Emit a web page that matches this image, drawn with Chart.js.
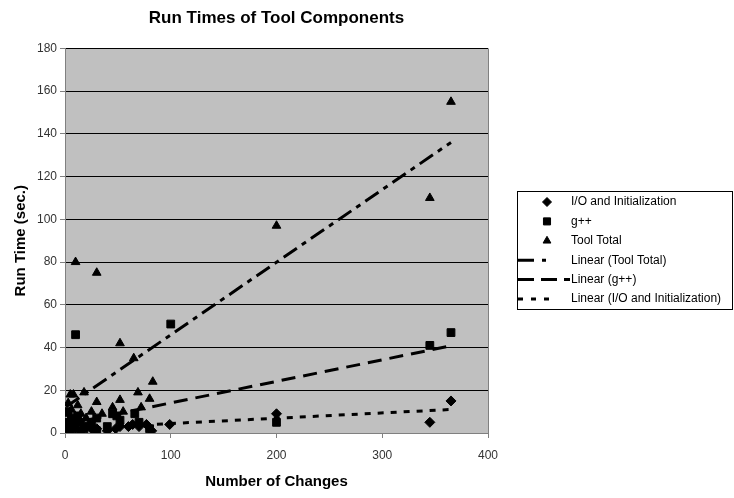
<!DOCTYPE html>
<html>
<head>
<meta charset="utf-8">
<script src="https://cdn.jsdelivr.net/npm/chart.js@4.4.1/dist/chart.umd.min.js"></script>
<style>
  html, body { margin: 0; padding: 0; background: #fff; }
  canvas { display: block; }
</style>
</head>
<body>
<canvas id="chart" width="734" height="498"></canvas>
<script>
// values
const xTickValues = [0, 100, 200, 300, 400];
const yTickValues = [0, 20, 40, 60, 80, 100, 120, 140, 160, 180];

const ioChanges = [1, 2, 3, 5, 7, 10, 12, 15, 20, 25, 30, 40, 48, 52, 60, 64, 70, 77, 82, 99, 200, 345, 365];
const ioTimes   = [1, 2, 3, 1, 4, 2, 5, 1, 3, 2, 2, 1, 2, 3, 3, 4, 3, 4, 1, 4, 9, 5, 15];

const gppChanges = [1, 2, 3, 4, 6, 8, 10, 12, 15, 18, 25, 30, 30, 40, 45, 49, 52, 66, 70, 80, 100, 200, 345, 365];
const gppTimes   = [2, 5, 10, 1, 7, 3, 46, 8, 5, 2, 4, 1, 7, 3, 9, 8, 6, 9, 5, 2, 51, 5, 41, 47];

const totalChanges = [1, 2, 3, 4, 5, 6, 8, 10, 12, 15, 18, 20, 25, 30, 30, 35, 45, 52, 52, 55, 65, 69, 72, 80, 83, 200, 345, 365];
const totalTimes   = [4, 9, 14, 6, 18, 11, 18, 80, 13, 9, 19, 7, 10, 75, 14.5, 9, 12, 42, 15.5, 10, 35, 19, 12, 16, 24, 97, 110, 155];

// trend line end points as drawn in the picture
const trendTotalX = [1, 365];
const trendTotalY = [12.3, 136];
const trendGppX = [1, 365];
const trendGppY = [4.1, 40.8];
const trendIoX = [1, 365];
const trendIoY = [2.0, 11.0];

const toPoints = (xs, ys) => xs.map((x, i) => ({ x: x, y: ys[i] }));

const FONT = "'Liberation Sans', Arial, sans-serif";

const plotBackground = {
  id: 'plotBackground',
  beforeDraw(chart) {
    const { ctx, chartArea: a } = chart;
    ctx.save();
    ctx.fillStyle = '#c0c0c0';
    ctx.fillRect(a.left, a.top, a.right - a.left, a.bottom - a.top);
    ctx.restore();
  },
  afterDatasetsDraw(chart) {
    const { ctx, chartArea: a } = chart;
    ctx.save();
    ctx.strokeStyle = '#808080';
    ctx.lineWidth = 1;
    ctx.beginPath();
    ctx.moveTo(Math.round(a.right) + 0.5, a.top);
    ctx.lineTo(Math.round(a.right) + 0.5, a.bottom);
    ctx.stroke();
    ctx.restore();
  }
};

// legend drawn in a bordered box to the right, like the original
const boxLegend = {
  id: 'boxLegend',
  afterDraw(chart) {
    const { ctx } = chart;
    ctx.save();
    ctx.strokeStyle = '#000';
    ctx.lineWidth = 1;
    ctx.strokeRect(517.5, 191.5, 215, 118);
    ctx.font = '12px ' + FONT;
    ctx.textBaseline = 'middle';
    ctx.textAlign = 'left';
    chart.data.datasets.forEach((ds, i) => {
      const y = 202 + i * 19.4;
      ctx.fillStyle = '#000';
      ctx.strokeStyle = '#000';
      if (ds.showLine) {
        ctx.save();
        ctx.lineWidth = 3;
        ctx.setLineDash(ds.legendDash);
        ctx.beginPath();
        ctx.moveTo(518, y);
        ctx.lineTo(ds.legendEnd, y);
        ctx.stroke();
        ctx.restore();
      } else {
        Chart.helpers.drawPoint(ctx, {
          pointStyle: ds.pointStyle, radius: ds.pointRadius - 0.5, rotation: 0, borderWidth: 1
        }, 547, y);
      }
      ctx.fillStyle = '#000';
      ctx.fillText(ds.label, 571, y);
    });
    ctx.restore();
  }
};

new Chart(document.getElementById('chart').getContext('2d'), {
  type: 'scatter',
  data: {
    datasets: [
      { label: 'I/O and Initialization', data: toPoints(ioChanges, ioTimes), pointStyle: 'rectRot', pointRadius: 5, backgroundColor: '#000', borderColor: '#000', borderWidth: 1 },
      { label: 'g++', data: toPoints(gppChanges, gppTimes), pointStyle: 'rect', pointRadius: 5.5, backgroundColor: '#000', borderColor: '#000', borderWidth: 1 },
      { label: 'Tool Total', data: toPoints(totalChanges, totalTimes), pointStyle: 'triangle', pointRadius: 5, backgroundColor: '#000', borderColor: '#000', borderWidth: 1 },
      { label: 'Linear (Tool Total)', data: toPoints(trendTotalX, trendTotalY), showLine: true, pointRadius: 0, borderColor: '#000', borderWidth: 3, borderDash: [16, 6, 5, 6], legendDash: [16, 8, 4, 100], legendEnd: 547 },
      { label: 'Linear (g++)', data: toPoints(trendGppX, trendGppY), showLine: true, pointRadius: 0, borderColor: '#000', borderWidth: 3, borderDash: [14, 8], legendDash: [16, 7], legendEnd: 570 },
      { label: 'Linear (I/O and Initialization)', data: toPoints(trendIoX, trendIoY), showLine: true, pointRadius: 0, borderColor: '#000', borderWidth: 3, borderDash: [6, 7], legendDash: [5, 8], legendEnd: 549 }
    ]
  },
  options: {
    responsive: false,
    animation: false,
    devicePixelRatio: 1,
    layout: { padding: { top: 0, left: 0, right: 246, bottom: 0 } },
    plugins: {
      legend: { display: false },
      tooltip: { enabled: false },
      title: {
        display: true,
        text: 'Run Times of Tool Components',
        fullSize: false,
        color: '#000',
        font: { family: FONT, size: 17, weight: 'bold' },
        padding: { top: 8, bottom: 20 }
      }
    },
    scales: {
      x: {
        type: 'linear',
        min: 0, max: 400,
        afterBuildTicks: (s) => { s.ticks = xTickValues.map(v => ({ value: v })); },
        afterFit: (s) => { s.height = 65; },
        ticks: { color: '#333', font: { family: FONT, size: 12 }, padding: 10 },
        grid: { drawOnChartArea: false, drawTicks: true, tickLength: 5, color: '#808080' },
        border: { color: '#808080' },
        title: { display: true, text: 'Number of Changes', color: '#000', font: { family: FONT, size: 15, weight: 'bold' }, padding: { top: 0, bottom: 7 } }
      },
      y: {
        min: 0, max: 180,
        afterBuildTicks: (s) => { s.ticks = yTickValues.map(v => ({ value: v })); },
        afterFit: (s) => { s.width = 65; },
        ticks: { color: '#333', font: { family: FONT, size: 12 }, padding: 3 },
        grid: { color: '#000', lineWidth: 1, drawTicks: true, tickLength: 5, tickColor: '#808080' },
        border: { color: '#808080' },
        title: { display: true, text: 'Run Time (sec.)', color: '#000', font: { family: FONT, size: 15, weight: 'bold' }, padding: { top: 12, bottom: 0 } }
      }
    }
  },
  plugins: [plotBackground, boxLegend]
});
</script>
</body>
</html>
